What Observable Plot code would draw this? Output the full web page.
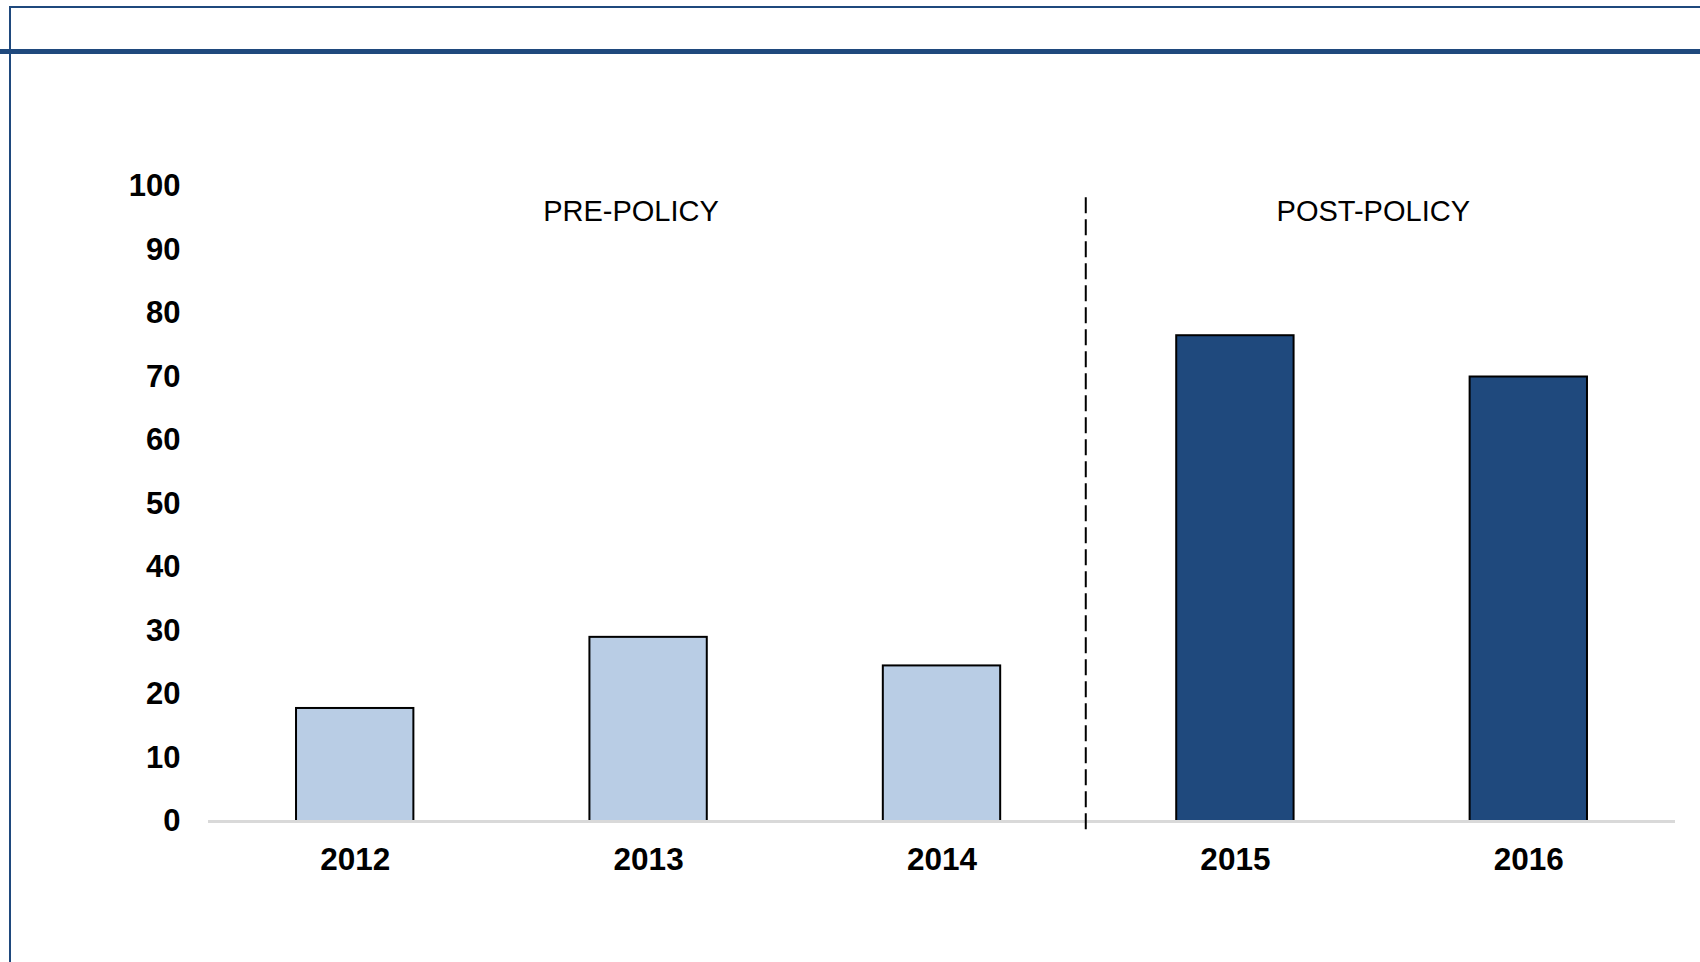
<!DOCTYPE html>
<html>
<head>
<meta charset="utf-8">
<script src="https://cdn.jsdelivr.net/npm/d3@7"></script>
<script src="https://cdn.jsdelivr.net/npm/@observablehq/plot@0.6"></script>
<style>
  html, body { margin: 0; padding: 0; background: #ffffff; }
  body { width: 1700px; height: 962px; position: relative; overflow: hidden; font-family: "Liberation Sans", Arial, sans-serif; }
  #chart { position: absolute; left: 0; top: 0; }
  .frame { position: absolute; left: 9px; top: 6px; right: -4px; bottom: -4px;
           border-left: 2px solid #1f497d; border-top: 2px solid #1f497d; z-index: 2; pointer-events: none; }
  .rule-top { position: absolute; left: 0; top: 49px; width: 1700px; height: 5px; background: #1f497d; z-index: 2; }
</style>
</head>
<body>
<div class="frame"></div>
<div class="rule-top"></div>
<div id="chart"></div>
<script>
// ---- data ----
const years = [2012, 2013, 2014, 2015, 2016];
const values = [17.8, 29, 24.5, 76.5, 70];
const periods = ["pre", "pre", "pre", "post", "post"];
const yTicks = [0, 10, 20, 30, 40, 50, 60, 70, 80, 90, 100];
const periodLabels = ["PRE-POLICY", "POST-POLICY"];
const periodLabelYears = [2012.94, 2015.47];
const periodLabelValue = 96;
const policyBreakYear = 2014.49;

const rows = years.map((year, i) => ({year, value: values[i], period: periods[i]}));
const labels = periodLabels.map((text, i) => ({text, year: periodLabelYears[i], value: periodLabelValue}));

const halfBar = 0.2;

const chart = Plot.plot({
  width: 1700,
  height: 962,
  marginLeft: 208,
  marginRight: 25,
  marginTop: 186,
  marginBottom: 141,
  style: {fontFamily: "'Liberation Sans', Arial, sans-serif", background: "transparent", color: "#000"},
  x: {type: "linear", domain: [2011.5, 2016.5], axis: null, label: null},
  y: {domain: [0, 100], axis: null, label: null},
  color: {domain: ["pre", "post"], range: ["#b9cde5", "#1f497d"]},
  marks: [
    Plot.axisY({ticks: yTicks, tickSize: 0, tickPadding: 28, fontSize: 31, fontWeight: "bold", label: null, tickFormat: d => String(d)}),
    Plot.axisX({ticks: years, tickSize: 0, tickPadding: 26, fontSize: 31.5, fontWeight: "bold", label: null, tickFormat: d => String(d)}),
    Plot.rectY(rows, {x1: d => d.year - halfBar, x2: d => d.year + halfBar, y: "value", fill: "period", stroke: "#000", strokeWidth: 2}),
    Plot.ruleY([0], {stroke: "#d9d9d9", strokeWidth: 3}),
    Plot.ruleX([policyBreakYear], {y1: -1.3, y2: 98.7, stroke: "#000", strokeWidth: 2, strokeDasharray: "16,6"}),
    Plot.text(labels, {x: "year", y: "value", text: "text", fontSize: 29, fill: "#000"})
  ]
});
document.getElementById("chart").appendChild(chart);
</script>
</body>
</html>
